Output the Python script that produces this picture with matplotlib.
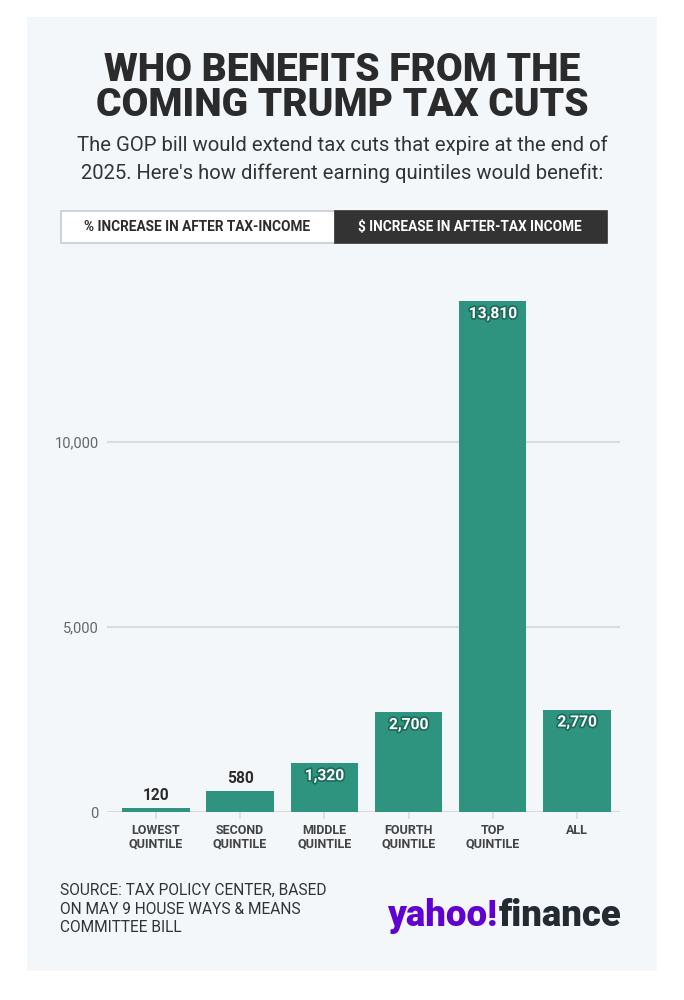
import matplotlib
matplotlib.use("Agg")
import matplotlib.pyplot as plt
from matplotlib.patches import Rectangle
import matplotlib.patheffects as pe

categories = ['LOWEST\nQUINTILE', 'SECOND\nQUINTILE', 'MIDDLE\nQUINTILE',
              'FOURTH\nQUINTILE', 'TOP\nQUINTILE', 'ALL']
values = [120, 580, 1320, 2700, 13810, 2770]
yticks = [0, 5000, 10000]

W, H = 684, 1000
fig = plt.figure(figsize=(W / 100, H / 100), dpi=100)
fig.patch.set_facecolor('white')

def fx(px):
    return px / W

def fy(py):
    return 1 - py / H

# background panel
fig.patches.append(Rectangle((fx(27), fy(971)), fx(657) - fx(27), fy(17) - fy(971),
                             transform=fig.transFigure, facecolor='#f3f7fa',
                             edgecolor='none', zorder=-5))

dark = '#2b2b2b'
fig.text(0.5, fy(70), 'WHO BENEFITS FROM THE', ha='center', va='center',
         fontsize=28, fontweight='heavy', family='Roboto', color=dark)
fig.text(0.5, fy(106), 'COMING TRUMP TAX CUTS', ha='center', va='center',
         fontsize=28, fontweight='heavy', family='Roboto', color=dark)
fig.text(0.5, fy(145), 'The GOP bill would extend tax cuts that expire at the end of',
         ha='center', va='center', fontsize=14.6, family='Roboto', color='#333333')
fig.text(0.5, fy(173), "2025. Here's how different earning quintiles would benefit:",
         ha='center', va='center', fontsize=14.6, family='Roboto', color='#333333')

# toggle buttons
fig.patches.append(Rectangle((fx(61), fy(243)), fx(335) - fx(61), fy(211) - fy(243),
                             transform=fig.transFigure, facecolor='white',
                             edgecolor='#c8cbce', lw=1.2, zorder=1))
fig.patches.append(Rectangle((fx(335), fy(243)), fx(607) - fx(335), fy(211) - fy(243),
                             transform=fig.transFigure, facecolor='#333333',
                             edgecolor='#333333', lw=1.2, zorder=1))
fig.text(fx(197), fy(227), '% INCREASE IN AFTER TAX-INCOME', ha='center', va='center',
         fontsize=9.8, fontweight='bold', family='Roboto', color=dark)
fig.text(fx(470), fy(227), '$ INCREASE IN AFTER-TAX INCOME', ha='center', va='center',
         fontsize=9.8, fontweight='bold', family='Roboto', color='white')

# chart
ymax = 14500
ax_top = 812 - 370 / 10000 * ymax
ax = fig.add_axes([fx(107), fy(812), fx(620) - fx(107), fy(ax_top) - fy(812)])
ax.set_facecolor('none')
x = list(range(len(values)))
ax.bar(x, values, width=0.8, color='#2e9480', zorder=3)
ax.set_xlim(-0.58, 5.51)
ax.set_ylim(0, ymax)
for t in yticks:
    ax.axhline(t, color='#d9dcdf', lw=1.5, zorder=1)
for s in ax.spines.values():
    s.set_visible(False)
ax.set_yticks(yticks)
ax.set_yticklabels(['{:,}'.format(t) for t in yticks])
ax.tick_params(axis='y', length=0, pad=6, labelsize=10.5, labelcolor='#666666')
for lab in ax.get_yticklabels():
    lab.set_family('Roboto')
ax.set_xticks(x)
ax.set_xticklabels(categories)
ax.tick_params(axis='x', length=5, color='#d9dcdf', width=1.2, pad=4,
               labelsize=9, labelcolor='#444444')
for lab in ax.get_xticklabels():
    lab.set_family('Roboto')
    lab.set_fontweight('bold')
    lab.set_linespacing(1.0)

px_per_val = 370 / 10000
for xi, v in zip(x, values):
    if v * px_per_val > 30:
        ax.annotate('{:,}'.format(v), (xi, v), xytext=(0, -9), textcoords='offset points',
                    ha='center', va='center', fontsize=11.2, fontweight='bold',
                    family='Roboto', color='white', zorder=4,
                    path_effects=[pe.withStroke(linewidth=2.5, foreground='#1d6b5b')])
    else:
        ax.annotate('{:,}'.format(v), (xi, v), xytext=(0, 9), textcoords='offset points',
                    ha='center', va='center', fontsize=11.2, fontweight='bold',
                    family='Roboto', color=dark, zorder=4)

# source
for i, line in enumerate(['SOURCE: TAX POLICY CENTER, BASED',
                          'ON MAY 9 HOUSE WAYS & MEANS',
                          'COMMITTEE BILL']):
    fig.text(fx(60), fy(890 + 19 * i), line, ha='left', va='center',
             fontsize=11.2, family='Roboto', color='#333333')

# logo
t1 = fig.text(fx(387), fy(916), 'yahoo!', ha='left', va='center', fontsize=26.3,
              fontweight='heavy', family='Roboto', color='#6001d2')
fig.canvas.draw()
bb = t1.get_window_extent()
fig.text(bb.x1 / W + 0.002, fy(916), 'finance', ha='left', va='center', fontsize=26.3,
         fontweight='heavy', family='Roboto', color='#232a31')

fig.savefig('out.png', dpi=100, facecolor='white')
